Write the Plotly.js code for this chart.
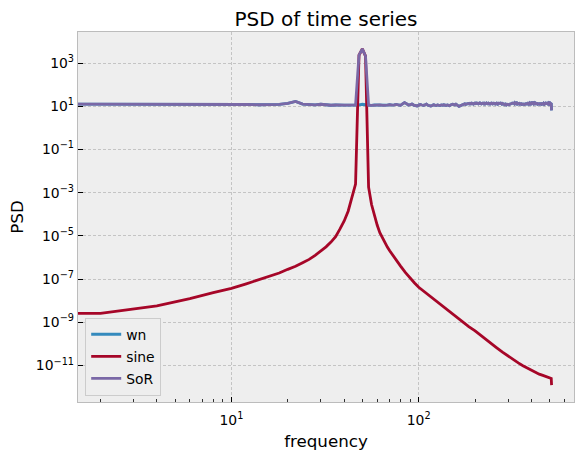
<!DOCTYPE html>
<html>
<head>
<meta charset="utf-8">
<script src="https://cdn.plot.ly/plotly-3.0.1.min.js"></script>
<style>html,body{margin:0;padding:0;background:#fff;}#chart{width:583px;height:459px;}</style>
</head>
<body>
<div id="chart"></div>
<script>
// Frequencies (Hz) of the noise / sum spectra; first entry is the left plot edge.
const freq = [1.5,
  2,4,6,8,10,12,14,16,18,20,
  22,24,26,28,30,32,34,36,38,40,
  42,44,46,48,50,52,54,56,58,60,
  62,64,66,68,70,72,74,76,78,80,
  82,84,86,88,90,92,94,96,98,100,
  102,104,106,108,110,112,114,116,118,120,
  122,124,126,128,130,132,134,136,138,140,
  142,144,146,148,150,152,154,156,158,160,
  162,164,166,168,170,172,174,176,178,180,
  182,184,186,188,190,192,194,196,198,200,
  202,204,206,208,210,212,214,216,218,220,
  222,224,226,228,230,232,234,236,238,240,
  242,244,246,248,250,252,254,256,258,260,
  262,264,266,268,270,272,274,276,278,280,
  282,284,286,288,290,292,294,296,298,300,
  302,304,306,308,310,312,314,316,318,320,
  322,324,326,328,330,332,334,336,338,340,
  342,344,346,348,350,352,354,356,358,360,
  362,364,366,368,370,372,374,376,378,380,
  382,384,386,388,390,392,394,396,398,400,
  402,404,406,408,410,412,414,416,418,420,
  422,424,426,428,430,432,434,436,438,440,
  442,444,446,448,450,452,454,456,458,460,
  462,464,466,468,470,472,474,476,478,480,
  482,484,486,488,490,492,494,496,498,500,
  502,504,506,508,510,512];

// PSD of white noise
const wn = [12.6,
  12.6,12.7,12.5,12.8,12.6,12.0,11.7,11.8,12.2,13.6,
  16.8,12.6,11.9,11.6,12.3,11.5,11.1,11.4,11.0,11.3,
  11.2,11.0,11.4,11.6,12.3,11.7,11.1,10.9,11.4,11.2,
  11.6,11.0,10.8,11.3,11.9,11.2,11.5,12.1,11.4,11.0,
  12.8,14.6,13.2,11.5,11.9,12.6,11.3,10.7,10.3,11.2,
  12.0,11.4,10.9,11.6,12.4,11.0,10.4,10.1,10.8,11.7,
  11.2,10.8,11.5,11.1,10.7,11.4,11.0,11.6,11.2,10.9,
  11.5,11.1,10.6,11.3,11.9,12.4,12.0,11.4,12.3,11.8,
  10.6,9.9,10.4,11.2,10.8,11.9,12.6,13.0,12.1,12.8,
  12.4,13.3,12.7,13.5,12.9,13.8,13.1,12.6,13.6,14.0,
  13.2,14.1,13.6,12.9,13.7,14.2,13.3,12.8,13.5,13.9,
  13.0,13.6,12.7,13.4,14.0,13.2,12.9,13.8,13.3,12.6,
  13.5,13.9,13.1,12.8,13.6,14.1,13.4,12.7,13.2,13.8,
  13.0,12.5,13.7,13.3,12.9,13.6,14.0,13.1,12.6,13.4,
  12.8,13.5,12.2,11.8,12.6,12.1,11.6,12.3,11.9,12.5,
  12.0,11.7,12.4,12.9,13.6,14.2,13.4,13.9,14.3,13.5,
  14.0,13.2,14.4,13.7,13.1,13.8,12.9,13.5,12.6,13.3,
  12.8,13.4,12.5,13.1,12.4,12.9,12.2,12.7,13.2,12.6,
  12.3,13.0,12.5,12.1,12.8,12.4,13.1,12.6,12.2,12.9,
  13.4,12.7,13.6,13.9,13.2,14.1,13.5,12.9,13.8,14.2,
  13.4,13.9,14.3,13.6,13.1,14.0,13.7,13.2,14.4,13.8,
  13.3,12.7,13.5,12.9,12.4,13.1,12.6,12.2,12.9,12.5,
  13.0,12.6,12.1,12.8,12.3,13.2,12.7,12.4,13.0,12.5,
  12.9,13.5,12.8,12.3,13.1,12.7,13.4,13.8,13.2,13.6,
  14.1,13.4,13.9,13.3,12.8,13.6,14.2,13.5,13.0,13.8,
  14.3,13.7,14.0,13.4,13.9,6.4];

// PSD of sine + noise (SoR)
const sor = [12.6,
  12.6,12.7,12.5,12.8,12.6,12.0,11.7,11.8,12.2,13.6,
  16.8,12.6,11.9,11.6,12.3,11.5,11.1,11.4,11.0,11.3,
  11.2,11.0,11.4,2300,4510,2100,11.1,10.9,11.4,11.2,
  11.6,11.0,10.8,11.3,11.9,11.2,11.5,12.1,11.4,11.0,
  12.8,14.6,13.2,11.5,11.9,12.6,11.3,10.7,10.3,11.2,
  12.0,11.4,10.9,11.6,12.4,11.0,10.4,10.1,10.8,11.7,
  11.2,10.8,11.5,11.1,10.7,11.4,11.0,11.6,11.2,10.9,
  11.5,11.1,10.6,11.3,11.9,12.4,12.0,11.4,12.3,11.8,
  10.6,9.9,10.4,11.2,10.8,11.9,12.6,13.0,12.1,12.8,
  12.4,13.3,12.7,13.5,12.9,13.8,13.1,12.6,13.6,14.0,
  13.2,14.1,13.6,12.9,13.7,14.2,13.3,12.8,13.5,13.9,
  13.0,13.6,12.7,13.4,14.0,13.2,12.9,13.8,13.3,12.6,
  13.5,13.9,13.1,12.8,13.6,14.1,13.4,12.7,13.2,13.8,
  13.0,12.5,13.7,13.3,12.9,13.6,14.0,13.1,12.6,13.4,
  12.8,13.5,12.2,11.8,12.6,12.1,11.6,12.3,11.9,12.5,
  12.0,11.7,12.4,12.9,13.6,14.2,13.4,13.9,14.3,13.5,
  14.0,13.2,14.4,13.7,13.1,13.8,12.9,13.5,12.6,13.3,
  12.8,13.4,12.5,13.1,12.4,12.9,12.2,12.7,13.2,12.6,
  12.3,13.0,12.5,12.1,12.8,12.4,13.1,12.6,12.2,12.9,
  13.4,12.7,13.6,13.9,13.2,14.1,13.5,12.9,13.8,14.2,
  13.4,13.9,14.3,13.6,13.1,14.0,13.7,13.2,14.4,13.8,
  13.3,12.7,13.5,12.9,12.4,13.1,12.6,12.2,12.9,12.5,
  13.0,12.6,12.1,12.8,12.3,13.2,12.7,12.4,13.0,12.5,
  12.9,13.5,12.8,12.3,13.1,12.7,13.4,13.8,13.2,13.6,
  14.1,13.4,13.9,13.3,12.8,13.6,14.2,13.5,13.0,13.8,
  14.3,13.7,14.0,13.4,13.9,6.4];

// PSD of the pure sine
const sineFreq = [1.5,2,4,6,8,10,12,14,16,18,20,22,24,26,28,30,32,34,36,38,40,42,44,46,
  48,50,52,
  54,56,58,60,62,64,66,68,70,72,74,76,78,80,85,90,95,100,110,120,130,140,150,160,170,185,
  200,215,230,245,260,280,300,320,340,360,380,400,420,440,460,480,500,510,512];
const sine = [2.57e-9,2.57e-9,5.75e-9,1.23e-8,2.34e-8,3.72e-8,6.03e-8,9.12e-8,1.35e-7,1.91e-7,
  2.82e-7,3.89e-7,5.75e-7,8.13e-7,1.26e-6,1.95e-6,3.09e-6,5.13e-6,9.12e-6,2.09e-5,4.9e-5,
  1.38e-4,6.46e-4,2.51e-3,
  2290,4500,2090,
  1.78e-3,2.82e-4,7.94e-5,3.16e-5,1.41e-5,7.94e-6,4.79e-6,3.02e-6,2.04e-6,1.41e-6,1.0e-6,
  7.24e-7,5.37e-7,3.98e-7,2.0e-7,1.1e-7,6.61e-8,4.17e-8,2.19e-8,1.2e-8,6.92e-9,4.17e-9,
  2.57e-9,1.62e-9,1.05e-9,6.31e-10,3.98e-10,2.51e-10,1.58e-10,1.02e-10,6.76e-11,4.17e-11,
  2.69e-11,1.82e-11,1.32e-11,9.77e-12,7.59e-12,5.89e-12,4.79e-12,3.98e-12,3.47e-12,3.02e-12,
  2.69e-12,2.51e-12,1.23e-12];

const yTickVals = [1e-11,1e-9,1e-7,1e-5,1e-3,1e-1,1e1,1e3];
const yTickText = ['10<sup>\u221211</sup>','10<sup>\u22129</sup>','10<sup>\u22127</sup>','10<sup>\u22125</sup>',
  '10<sup>\u22123</sup>','10<sup>\u22121</sup>','10<sup>1</sup>','10<sup>3</sup>'];
const xTickVals = [10,100];
const xTickText = ['10<sup>1</sup>','10<sup>2</sup>'];
const xMinorVals = [2,3,4,5,6,7,8,9,20,30,40,50,60,70,80,90,200,300,400,500,600];

const FONT = 'DejaVu Sans, sans-serif';
const traces = [
  {x: freq, y: wn, name: 'wn', type: 'scatter', mode: 'lines', legendgroup: 'a',
   line: {color: '#348ABD', width: 2.8}},
  {x: sineFreq, y: sine, name: 'sine', type: 'scatter', mode: 'lines', legendgroup: 'b',
   line: {color: '#A60628', width: 2.8}},
  {x: freq, y: sor, name: 'SoR', type: 'scatter', mode: 'lines', legendgroup: 'c',
   line: {color: '#7A68A6', width: 2.8}}
];

const axisCommon = {
  type: 'log', showline: true, mirror: true, linecolor: '#bcbcbc', linewidth: 1.2,
  ticks: 'inside', ticklen: 5, tickwidth: 1, tickcolor: '#000',
  showgrid: true, gridcolor: '#b2b2b2', gridwidth: 0.7, griddash: '3px,2px',
  zeroline: false, tickfont: {family: FONT, size: 13.9, color: '#000'},
  tickmode: 'array'
};

const layout = {
  width: 583, height: 459,
  margin: {l: 78, r: 9, t: 32, b: 57},
  paper_bgcolor: '#ffffff', plot_bgcolor: '#eeeeee',
  font: {family: FONT, color: '#000'},
  title: {text: 'PSD of time series', font: {family: FONT, size: 20, color: '#000'},
          x: 0.5, xref: 'paper', xanchor: 'center', y: 1 - 19/459, yref: 'container', yanchor: 'middle'},
  xaxis: Object.assign({}, axisCommon, {
    range: [0.181, 2.829], tickvals: xTickVals, ticktext: xTickText, ticklabelstandoff: 5,
    minor: {tickmode: 'array', tickvals: xMinorVals, ticks: 'inside', ticklen: 3, tickwidth: 0.8,
            tickcolor: '#000', showgrid: false},
    title: {text: 'frequency', font: {family: FONT, size: 16.7, color: '#000'}, standoff: 8}
  }),
  yaxis: Object.assign({}, axisCommon, {
    range: [-12.69, 4.435], tickvals: yTickVals, ticktext: yTickText,
    title: {text: 'PSD', font: {family: FONT, size: 16.7, color: '#000'}, standoff: 8}
  }),
  showlegend: true,
  legend: {x: 0.0145, y: 0.017, xanchor: 'left', yanchor: 'bottom', bgcolor: '#eeeeee',
           bordercolor: '#cccccc', borderwidth: 1, font: {family: FONT, size: 13.9, color: '#000'},
           traceorder: 'grouped', tracegroupgap: 1}
};

Plotly.newPlot('chart', traces, layout, {displayModeBar: false, staticPlot: true});
</script>
</body>
</html>
